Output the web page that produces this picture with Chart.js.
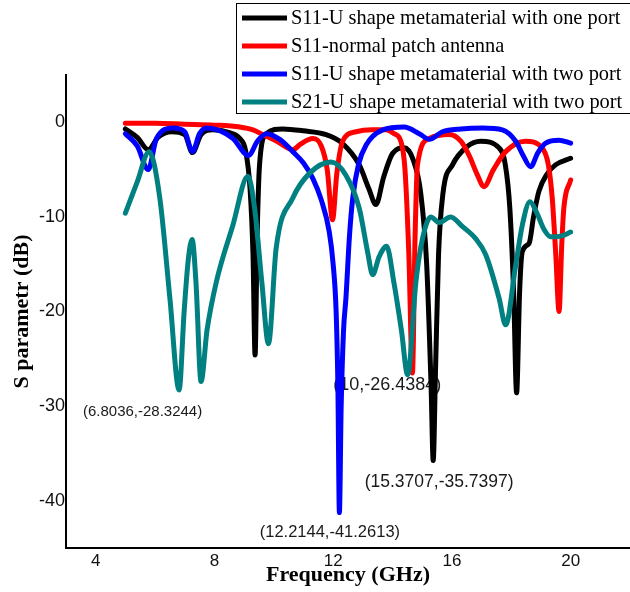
<!DOCTYPE html>
<html>
<head>
<meta charset="utf-8">
<script src="https://cdn.jsdelivr.net/npm/chart.js@4.4.1/dist/chart.umd.min.js"></script>
<style>
  html, body { margin: 0; padding: 0; background: #fff; }
  #wrap { width: 630px; height: 592px; position: relative; }
</style>
</head>
<body>
<div id="wrap"><canvas id="chart" width="630" height="592"></canvas></div>
<script>
// series names (legend order)
const seriesNames = [
  "S11-U shape metamaterial with one port",
  "S11-normal patch antenna",
  "S11-U shape metamaterial with two port",
  "S21-U shape metamaterial with two port"
];

// frequency (GHz) / S parameter (dB)
const oneFreq = [5.0, 5.4, 5.77, 6.1, 6.55, 7.0, 7.26, 7.55, 7.95, 8.5, 8.85, 9.05, 9.2, 9.3, 9.37, 9.44, 9.52, 9.75, 10.3, 11.0, 11.76, 12.3, 12.88, 13.2, 13.44, 13.7, 14.0, 14.39, 14.7, 14.95, 15.15, 15.3, 15.37, 15.45, 15.55, 15.7, 16.02, 16.5, 16.97, 17.59, 17.8, 17.95, 18.08, 18.18, 18.28, 18.37, 18.6, 18.75, 18.93, 19.2, 19.49, 20.0];
const oneS11 = [-0.7, -1.6, -2.9, -1.6, -1.0, -1.3, -3.2, -1.3, -0.8, -1.1, -1.7, -3.0, -7.0, -14, -24.6, -12, -4.5, -1.2, -0.7, -0.9, -1.3, -2.2, -4.5, -7.0, -8.7, -5.8, -3.3, -2.7, -4.0, -7.5, -15, -28, -35.74, -26, -14, -7.5, -4.5, -2.6, -2.0, -2.7, -4.5, -9, -18, -28.6, -18, -13.7, -12.8, -10, -7.3, -5.5, -4.5, -3.8];

const patchFreq = [5.0, 6.0, 7.0, 8.0, 8.85, 9.3, 9.63, 10.1, 10.64, 10.9, 11.31, 11.6, 11.8, 11.98, 12.12, 12.32, 12.77, 13.3, 13.78, 14.05, 14.28, 14.42, 14.55, 14.67, 14.76, 14.84, 15.24, 15.91, 16.3, 16.58, 16.85, 17.08, 17.4, 17.81, 18.48, 19.04, 19.25, 19.38, 19.5, 19.61, 19.7, 19.77, 20.0];
const patchS11 = [-0.1, -0.1, -0.2, -0.3, -0.5, -0.8, -1.3, -2.0, -2.9, -2.3, -1.7, -2.5, -5, -10.3, -5.5, -2.0, -1.0, -0.8, -0.8, -1.2, -2.0, -5, -14, -26.5, -12, -4.5, -1.7, -1.3, -2.0, -3.5, -5.5, -6.8, -5.0, -3.1, -2.0, -2.7, -4.5, -8.0, -14, -20.0, -13, -9.1, -6.1];

const twoFreq = [5.0, 5.4, 5.77, 6.05, 6.61, 7.0, 7.26, 7.5, 7.73, 8.2, 8.62, 9.15, 9.45, 9.75, 10.2, 10.64, 11.0, 11.31, 11.6, 11.87, 12.0, 12.1, 12.16, 12.21, 12.27, 12.35, 12.43, 12.55, 12.66, 12.85, 13.11, 13.67, 14.39, 14.9, 15.24, 15.68, 16.3, 17.03, 17.7, 18.15, 18.4, 18.65, 18.9, 19.16, 19.61, 20.0];
const twoS11 = [-1.2, -2.5, -5.0, -1.7, -0.6, -1.0, -3.1, -1.2, -0.6, -0.9, -1.7, -3.5, -2.0, -1.2, -1.8, -3.1, -4.3, -5.9, -8.2, -11.6, -15, -20, -28, -41.26, -30, -22, -18.6, -12, -8.0, -4.5, -2.4, -0.8, -0.5, -1.2, -1.8, -1.0, -0.7, -0.6, -0.8, -2.0, -3.5, -4.7, -3.2, -2.2, -1.9, -2.2];

const twoFreq21 = [5.0, 5.4, 5.8, 6.16, 6.5, 6.81, 6.98, 7.12, 7.25, 7.38, 7.55, 7.75, 8.07, 8.62, 9.13, 9.35, 9.6, 9.82, 10.08, 10.64, 11.2, 11.93, 12.43, 12.88, 13.16, 13.33, 13.55, 13.8, 14.05, 14.3, 14.51, 14.79, 15.01, 15.29, 15.57, 15.96, 16.35, 16.8, 17.14, 17.59, 17.81, 18.15, 18.37, 18.63, 18.85, 19.1, 19.33, 19.7, 20.0];
const twoS21 = [-9.6, -6.3, -3.1, -8.0, -18.6, -28.3, -20, -14.5, -12.4, -17, -27.4, -22, -16.8, -10.9, -5.7, -9, -17, -23.4, -13.3, -8.0, -5.4, -4.2, -5.6, -9.1, -13.7, -16.1, -14.2, -13.1, -17, -22, -26.7, -16.8, -12.3, -10.0, -10.6, -10.0, -11.0, -12.3, -14.0, -18.6, -21.4, -15.1, -10.9, -8.4, -9.5, -11.3, -12.1, -12.0, -11.6];

const xTicks = [4, 8, 12, 16, 20];
const yTicks = [-40, -30, -20, -10, 0];

// data-tip texts and where they sit (data units)
const tipTexts = ["(6.8036,-28.3244)", "(10,-26.4384)", "(15.3707,-35.7397)", "(12.2144,-41.2613)"];
const tipX = [5.58, 13.82, 15.57, 11.89];
const tipY = [-30.6, -27.8, -38.0, -43.4];
const tipSize = [15, 18, 17.5, 16.5];

const colors = ["#000000", "#ff0000", "#0000ff", "#008080"];

function pts(xs, ys) {
  return xs.map((x, i) => ({ x: x, y: ys[i] }));
}

const sans = "'Liberation Sans', Arial, sans-serif";
const serif = "'Liberation Serif', 'Times New Roman', serif";

const overlay = {
  id: "overlay",
  beforeDatasetsDraw(chart) {
    const ctx = chart.ctx;
    const xs = chart.scales.x, ys = chart.scales.y;
    ctx.save();
    ctx.fillStyle = "#1a1a1a";
    ctx.textAlign = "center";
    ctx.textBaseline = "middle";
    tipTexts.forEach((t, i) => {
      ctx.font = tipSize[i] + "px " + sans;
      ctx.fillText(t, xs.getPixelForValue(tipX[i]), ys.getPixelForValue(tipY[i]));
    });
    ctx.restore();
  },
  afterDraw(chart) {
    const ctx = chart.ctx;
    ctx.save();
    ctx.fillStyle = "#fff";
    ctx.fillRect(236, 3, 400, 111);
    ctx.strokeStyle = "#000";
    ctx.lineWidth = 1;
    ctx.strokeRect(236.5, 3.5, 400, 110);
    ctx.font = "20.4px " + serif;
    ctx.textBaseline = "middle";
    ctx.textAlign = "left";
    seriesNames.forEach((name, i) => {
      const y = 18 + i * 28;
      ctx.strokeStyle = colors[i];
      ctx.lineWidth = 5;
      ctx.beginPath();
      ctx.moveTo(242, y);
      ctx.lineTo(287, y);
      ctx.stroke();
      ctx.fillStyle = "#000";
      ctx.fillText(name, 291, y + 1);
    });
    ctx.restore();
  }
};

const series = [pts(oneFreq, oneS11), pts(patchFreq, patchS11), pts(twoFreq, twoS11), pts(twoFreq21, twoS21)];

new Chart(document.getElementById("chart"), {
  type: "line",
  data: {
    datasets: series.map((d, i) => ({
      label: seriesNames[i],
      data: d,
      borderColor: colors[i],
      borderWidth: 5,
      pointRadius: 0,
      fill: false,
      cubicInterpolationMode: "monotone",
      borderCapStyle: "round",
      borderJoinStyle: "round",
      order: 4 - i
    }))
  },
  options: {
    responsive: false,
    animation: false,
    layout: { padding: { top: 75, right: 0, left: 0, bottom: 0 } },
    plugins: { legend: { display: false }, tooltip: { enabled: false } },
    scales: {
      x: {
        type: "linear",
        min: 3,
        max: 22,
        afterFit: s => { s.height = 44; },
        afterBuildTicks: s => { s.ticks = xTicks.map(v => ({ value: v })); },
        grid: { display: false, drawTicks: false },
        border: { display: true, color: "#000", width: 2 },
        ticks: { color: "#111", font: { family: sans, size: 17 }, padding: 3, maxRotation: 0 },
        title: { display: true, text: "Frequency (GHz)", color: "#000", font: { family: serif, size: 22, weight: "bold" }, padding: { top: 0, bottom: 3 } }
      },
      y: {
        min: -45,
        max: 5,
        afterFit: s => { s.width = 66; },
        afterBuildTicks: s => { s.ticks = yTicks.map(v => ({ value: v })); },
        grid: { display: false, drawTicks: false },
        border: { display: true, color: "#000", width: 2 },
        ticks: { color: "#111", font: { family: sans, size: 18 }, padding: 1 },
        title: { display: true, text: "S parametr (dB)", color: "#000", font: { family: serif, size: 22, weight: "bold" }, padding: { top: 9, bottom: 0 } }
      }
    }
  },
  plugins: [overlay]
});
</script>
</body>
</html>
